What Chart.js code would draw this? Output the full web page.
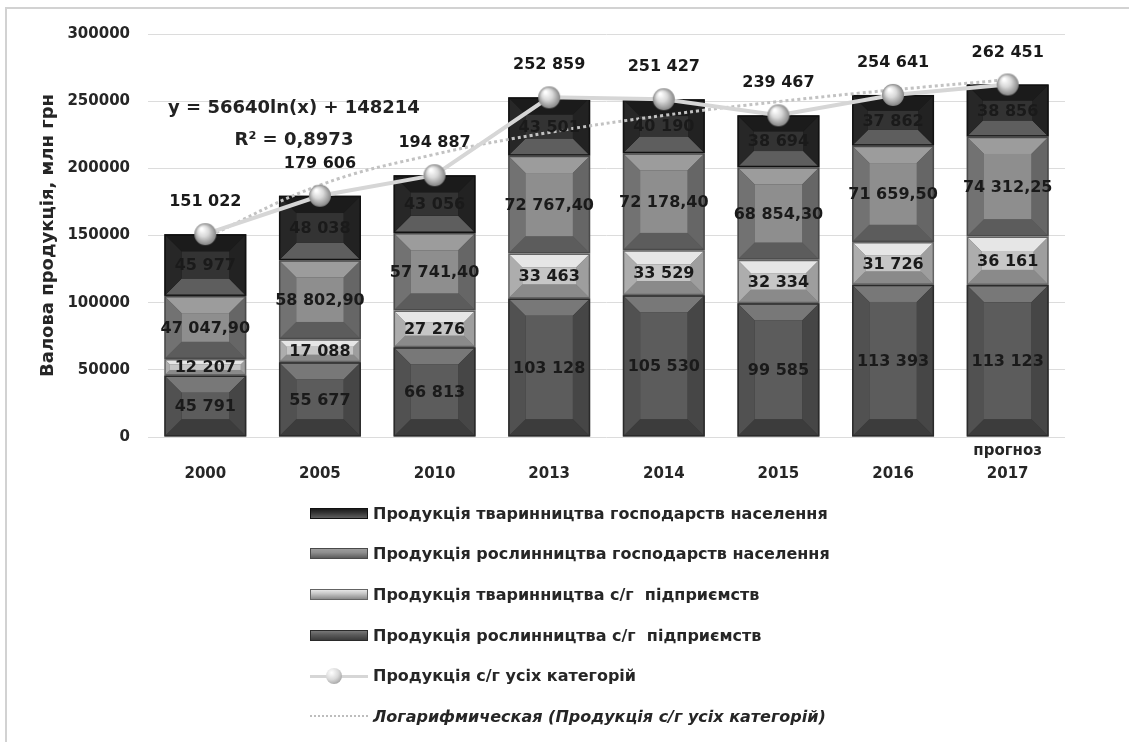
<!DOCTYPE html>
<html lang="uk">
<head>
<meta charset="utf-8">
<script src="https://cdn.jsdelivr.net/npm/chart.js@4.4.1/dist/chart.umd.min.js"></script>
<style>
body { margin: 0; background: #fff; }
#wrap { position: relative; width: 1129px; height: 742px; overflow: hidden; }
#frame { position: absolute; left: 5px; top: 7px; width: 1300px; height: 800px;
  border-top: 2px solid #d2d2d2; border-left: 2px solid #d2d2d2; }
#chart { position: absolute; left: 0; top: 0; }
#legend { position: absolute; left: 310px; top: 493px; font: bold 16px "DejaVu Sans", sans-serif; color: #262626; }
.row { height: 40.6px; display: flex; align-items: center; white-space: pre; }
.sw { width: 58px; height: 11px; margin-right: 5px; position: relative; box-sizing: border-box; }
</style>
</head>
<body>
<div id="wrap">
  <div id="frame"></div>
  <canvas id="chart" width="1129" height="742"></canvas>
  <div id="legend"></div>
</div>
<script>
// categories (first line only used for the "прогноз" note)
const years = [['', '2000'], ['', '2005'], ['', '2010'], ['', '2013'], ['', '2014'], ['', '2015'], ['', '2016'], ['прогноз', '2017']];

// млн грн
const cropEnterprises = [45791, 55677, 66813, 103128, 105530, 99585, 113393, 113123];
const livestockEnterprises = [12207, 17088, 27276, 33463, 33529, 32334, 31726, 36161];
const cropHouseholds = [47047.90, 58802.90, 57741.40, 72767.40, 72178.40, 68854.30, 71659.50, 74312.25];
const livestockHouseholds = [45977, 48038, 43056, 43501, 40190, 38694, 37862, 38856];
const totalAll = [151022, 179606, 194887, 252859, 251427, 239467, 254641, 262451];
// dotted logarithmic trend
const trendLog = [148200, 187500, 210400, 226700, 239400, 249700, 258400, 266000];

const yTicks = { min: 0, max: 300000, step: 50000 };

const FONT = '"DejaVu Sans", sans-serif';

// bevel colours for each bar series: face, top, bottom, left, right, edge
const bevels = {
    cropEnt:  { face: '#5c5c5c', top: '#787878', bottom: '#3c3c3c', left: '#515151', right: '#464646', edge: '#2a2a2a' },
    liveEnt:  { face: '#c6c6c6', top: '#e6e6e6', bottom: '#8a8a8a', left: '#adadad', right: '#9e9e9e', edge: '#646464' },
    cropHouse:{ face: '#8e8e8e', top: '#9c9c9c', bottom: '#5c5c5c', left: '#727272', right: '#666666', edge: '#4a4a4a' },
    liveHouse:{ face: '#333333', top: '#1b1b1b', bottom: '#5e5e5e', left: '#272727', right: '#222222', edge: '#111111' }
};

// number like "47 047,90"
function fmt(v, dec) {
    const parts = v.toFixed(dec).split('.');
    const i = parts[0].replace(/\B(?=(\d{3})+(?!\d))/g, ' ');
    return parts[1] ? i + ',' + parts[1] : i;
}

// grey glossy ball for the total line
function makeSphere(r) {
    const c = document.createElement('canvas');
    c.width = c.height = r * 2 + 2;
    const g = c.getContext('2d');
    const grd = g.createRadialGradient(r * 0.75, r * 0.6, 1, r + 1, r + 1, r);
    grd.addColorStop(0, '#ffffff');
    grd.addColorStop(0.45, '#d9d9d9');
    grd.addColorStop(1, '#858585');
    g.fillStyle = grd;
    g.beginPath();
    g.arc(r + 1, r + 1, r, 0, Math.PI * 2);
    g.fill();
    return c;
}
const sphere = makeSphere(11);

function poly(ctx, pts, color) {
    ctx.fillStyle = color;
    ctx.beginPath();
    ctx.moveTo(pts[0][0], pts[0][1]);
    for (let k = 1; k < pts.length; k++) ctx.lineTo(pts[k][0], pts[k][1]);
    ctx.closePath();
    ctx.fill();
}

// draws the bevelled look on top of each bar segment
const bevelPlugin = {
    id: 'bevel',
    afterDatasetDraw(chart, args) {
        const ds = chart.data.datasets[args.index];
        if (!ds.bevel) return;
        const b = bevels[ds.bevel];
        const ctx = chart.ctx;
        ctx.save();
        args.meta.data.forEach(el => {
            const p = el.getProps(['x', 'y', 'base', 'width'], true);
            const l = p.x - p.width / 2, r = p.x + p.width / 2;
            const t = Math.min(p.y, p.base), bt = Math.max(p.y, p.base);
            const h = bt - t;
            if (h < 1) return;
            ctx.fillStyle = b.edge;
            ctx.fillRect(l, t, r - l, h);
            const L = l + 1.5, R = r - 1.5, T = t + 1.5, B = bt - 1.5;
            const d = Math.min(16, (B - T) * 0.3, (R - L) * 0.2);
            poly(ctx, [[L, T], [R, T], [R - d, T + d], [L + d, T + d]], b.top);
            poly(ctx, [[L, B], [R, B], [R - d, B - d], [L + d, B - d]], b.bottom);
            poly(ctx, [[L, T], [L + d, T + d], [L + d, B - d], [L, B]], b.left);
            poly(ctx, [[R, T], [R - d, T + d], [R - d, B - d], [R, B]], b.right);
            ctx.fillStyle = b.face;
            ctx.fillRect(L + d, T + d, R - L - 2 * d, B - T - 2 * d);
        });
        ctx.restore();
    }
};

// value labels + trend equation
const labelPlugin = {
    id: 'labels',
    afterDatasetsDraw(chart) {
        const ctx = chart.ctx;
        ctx.save();
        ctx.textAlign = 'center';
        ctx.textBaseline = 'middle';
        ctx.fillStyle = '#1a1a1a';
        ctx.font = 'bold 16px ' + FONT;
        chart.data.datasets.forEach((ds, di) => {
            if (ds.noLabels) return;
            const meta = chart.getDatasetMeta(di);
            meta.data.forEach((el, i) => {
                const txt = fmt(ds.data[i], ds.decimals || 0);
                if (meta.type === 'bar') {
                    const p = el.getProps(['x', 'y', 'base'], true);
                    ctx.fillText(txt, p.x, (p.y + p.base) / 2 + 1);
                } else {
                    ctx.fillText(txt, el.x, el.y - 32);
                }
            });
        });
        ctx.font = 'bold 18px ' + FONT;
        ctx.fillStyle = '#222';
        ctx.fillText('y = 56640ln(x) + 148214', 294, 108);
        ctx.fillText('R² = 0,8973', 294, 140);
        ctx.restore();
    }
};

const datasets = [
    { type: 'line', label: 'Продукція с/г усіх категорій', data: totalAll, stack: 'total', order: 0,
      borderColor: '#d6d6d6', borderWidth: 4, pointStyle: sphere, pointRadius: 11, tension: 0 },
    { type: 'line', label: 'Логарифмическая (Продукція с/г усіх категорій)', data: trendLog, stack: 'trend', order: 1,
      borderColor: '#c2c2c2', borderWidth: 3, borderDash: [3, 3], pointRadius: 0, tension: 0.4, noLabels: true },
    { label: 'Продукція рослинництва с/г  підприємств', data: cropEnterprises, bevel: 'cropEnt', order: 2,
      backgroundColor: bevels.cropEnt.face },
    { label: 'Продукція тваринництва с/г  підприємств', data: livestockEnterprises, bevel: 'liveEnt', order: 2,
      backgroundColor: bevels.liveEnt.face },
    { label: 'Продукція рослинництва господарств населення', data: cropHouseholds, bevel: 'cropHouse', decimals: 2, order: 2,
      backgroundColor: bevels.cropHouse.face },
    { label: 'Продукція тваринництва господарств населення', data: livestockHouseholds, bevel: 'liveHouse', order: 2,
      backgroundColor: bevels.liveHouse.face }
];
datasets.forEach(ds => {
    if (!ds.type) { ds.type = 'bar'; ds.stack = 'bars'; ds.barPercentage = 0.715; ds.categoryPercentage = 1; ds.borderWidth = 0; }
});

const tickFont = { family: FONT, weight: 'bold', size: 15 };

const chart = new Chart(document.getElementById('chart'), {
    data: { labels: years, datasets: datasets },
    options: {
        responsive: false,
        animation: false,
        layout: { padding: { left: 34, right: 64, top: 34, bottom: 245 } },
        plugins: { legend: { display: false }, tooltip: { enabled: false } },
        scales: {
            x: {
                stacked: true,
                grid: { display: false },
                border: { display: false },
                ticks: { color: '#262626', font: { ...tickFont, lineHeight: 1.5 }, padding: -5, maxRotation: 0, autoSkip: false },
                afterFit(s) { s.height = 60; }
            },
            y: {
                stacked: true,
                min: yTicks.min, max: yTicks.max,
                ticks: { stepSize: yTicks.step, padding: 18, color: '#262626', font: tickFont,
                         callback: v => String(v) },
                grid: { color: '#dcdcdc', drawTicks: false },
                border: { display: false },
                title: { display: true, text: 'Валова продукція, млн грн', color: '#262626',
                         font: { family: FONT, weight: 'bold', size: 18 }, padding: { top: 4, bottom: 0 } },
                afterFit(s) { s.width = 114; }
            }
        }
    },
    plugins: [bevelPlugin, labelPlugin]
});

// legend as a single column below the chart, in the reference order
function buildLegend() {
    const box = document.getElementById('legend');
    const order = [5, 4, 3, 2, 0, 1];
    order.forEach(i => {
        const ds = datasets[i];
        const row = document.createElement('div');
        row.className = 'row';
        const sw = document.createElement('div');
        sw.className = 'sw';
        if (ds.bevel) {
            const b = bevels[ds.bevel];
            sw.style.background = `linear-gradient(${b.top}, ${b.face} 40%, ${b.bottom})`;
            sw.style.border = '1px solid ' + b.edge;
        } else if (i === 0) {
            sw.style.height = '20px';
            sw.innerHTML = '<div style="position:absolute;left:0;right:0;top:9px;height:3px;background:#d6d6d6"></div>' +
                '<div style="position:absolute;left:16px;top:2px;width:16px;height:16px;border-radius:50%;' +
                'background:radial-gradient(circle at 35% 30%, #fff, #d9d9d9 45%, #858585)"></div>';
        } else {
            sw.style.height = '0';
            sw.style.borderTop = '2px dotted #bdbdbd';
            row.style.fontStyle = 'italic';
        }
        row.appendChild(sw);
        const t = document.createElement('span');
        t.textContent = ds.label;
        row.appendChild(t);
        box.appendChild(row);
    });
}
buildLegend();
</script>
</body>
</html>
